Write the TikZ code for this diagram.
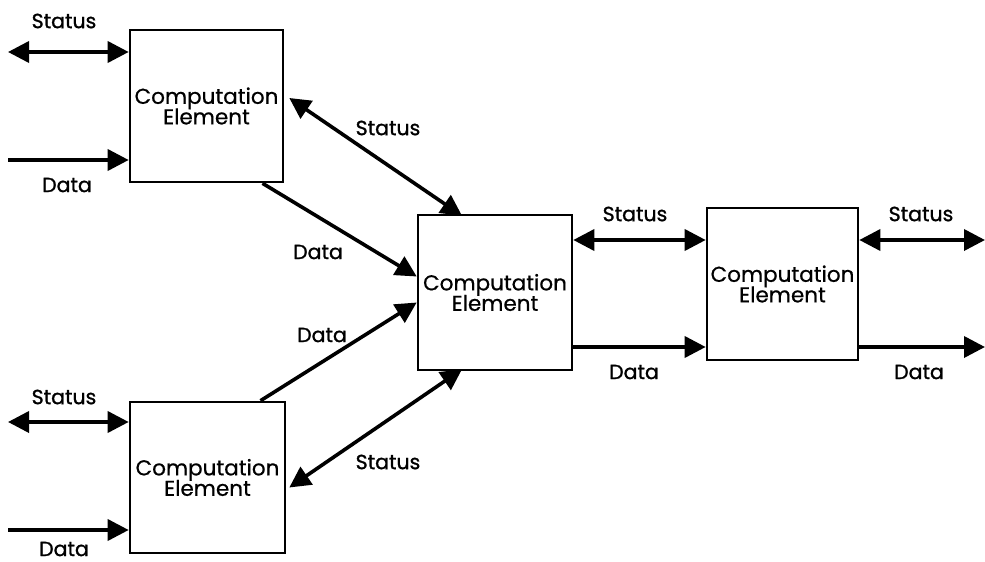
\documentclass[tikz,border=0pt]{standalone}
\usepackage{fontspec}
\setmainfont{Poppins}
\newfontfamily\labfont{Poppins}[FakeBold=1.2]
\newfontfamily\boxfont{Poppins}[FakeBold=0.6]
\newcommand\boxfontset{\boxfont\fontsize{21.5}{20.5}\selectfont\lineskiplimit-100pt\relax}
\usetikzlibrary{arrows.meta,calc}
\begin{document}
\begin{tikzpicture}[x=1pt,y=-1pt,
  box/.style={draw,line width=2.6pt,fill=white,align=center,inner sep=0pt,
    font=\boxfontset},
  conn/.style={line width=3.6pt},
  one/.style={conn,-{Triangle[length=21pt,width=21pt]}},
  two/.style={conn,{Triangle[length=21pt,width=21pt]}-{Triangle[length=21pt,width=21pt]}},
  lab/.style={font=\labfont\fontsize{20.5}{20}\selectfont,inner sep=0pt}]
\useasboundingbox (0,0) rectangle (985,562);
\node[box,minimum width=153pt,minimum height=152pt] (A) at (206.5,106) {Computation\\Element};
\node[box,minimum width=155pt,minimum height=151pt] (B) at (207.5,477.5) {Computation\\Element};
\node[box,minimum width=154pt,minimum height=155pt] (C) at (495,292.5) {Computation\\Element};
\node[box,minimum width=151pt,minimum height=152pt] (D) at (782.5,284) {Computation\\Element};
\coordinate (sA) at (8,52);
\coordinate (dA) at (8,160);
\coordinate (sB) at (8,422);
\coordinate (dB) at (8,530);
\coordinate (sD) at (985,240);
\coordinate (dD) at (985,347);
\draw[two] (sA) -- (sA -| A.west);
\draw[one] (dA) -- (dA -| A.west);
\draw[two] (sB) -- (sB -| B.west);
\draw[one] (dB) -- (dB -| B.west);
\draw[two] ($(A.east)+(5,-8)$) -- ($(C.north)+(-33,2)$);
\draw[one] ($(A.south)+(56,0)$) -- ($(C.west)+(0,-16)$);
\draw[one] ($(B.north)+(53,0)$) -- ($(C.west)+(0,10)$);
\draw[two] ($(B.east)+(3,10)$) -- ($(C.south)+(-33,-2)$);
\draw[two] (sD -| C.east) -- (sD -| D.west);
\draw[one] (dD -| C.east) -- (dD -| D.west);
\draw[two] (sD -| D.east) -- (sD);
\draw[one] (dD -| D.east) -- (dD);
\node[lab] (l1) at (64,21) {Status};
\node[lab] (l2) at (67,185) {Data};
\node[lab] (l3) at (64,397) {Status};
\node[lab] (l4) at (64,549) {Data};
\node[lab] (l5) at (388,128) {Status};
\node[lab] (l6) at (318,252) {Data};
\node[lab] (l7) at (322,335) {Data};
\node[lab] (l8) at (388,462) {Status};
\node[lab] (l9) at (635,214) {Status};
\node[lab] (l10) at (634,372) {Data};
\node[lab] (l11) at (921,214) {Status};
\node[lab] (l12) at (919,372) {Data};
\end{tikzpicture}
\end{document}
